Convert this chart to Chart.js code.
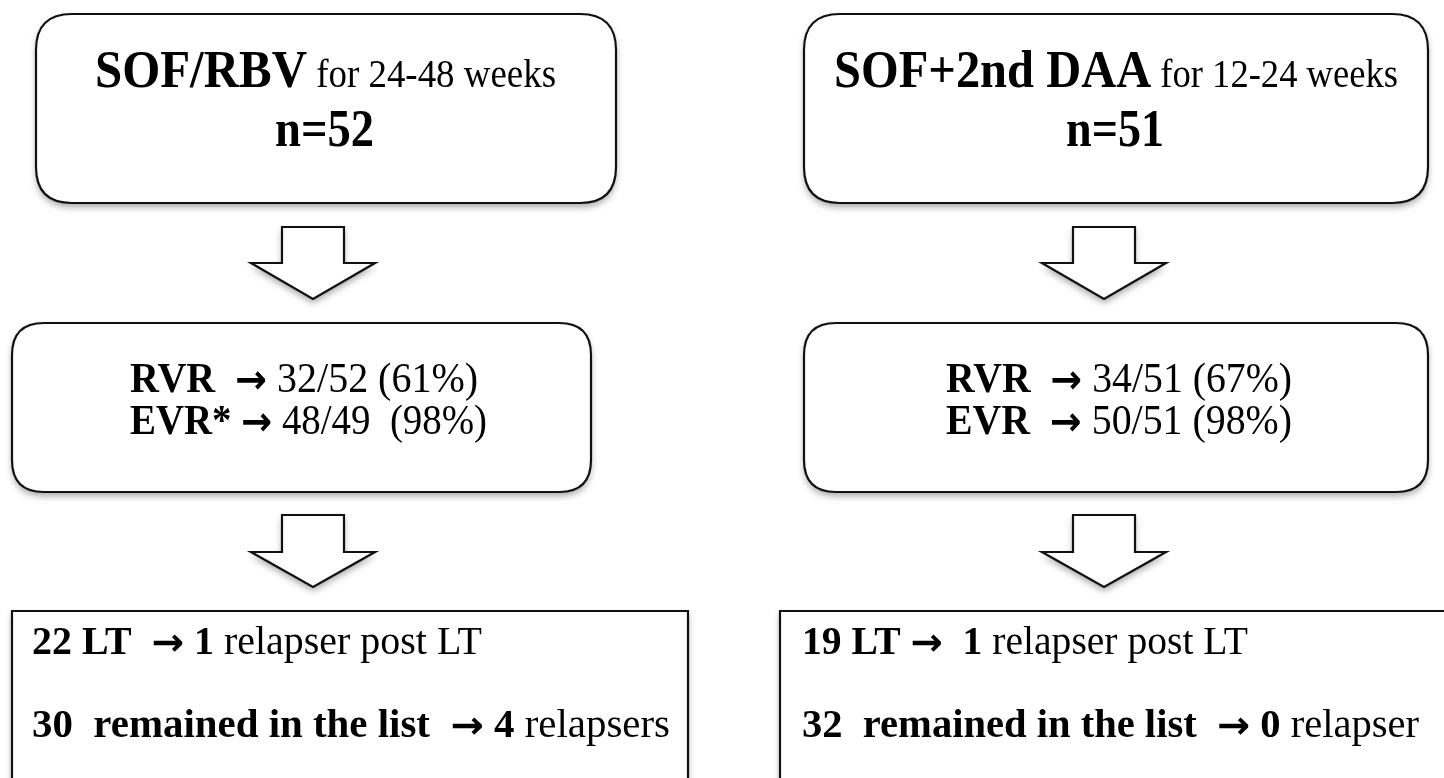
<!DOCTYPE html>
<html>
<head>
<meta charset="utf-8">
<script src="https://cdn.jsdelivr.net/npm/chart.js@4.4.1/dist/chart.umd.min.js"></script>
<style>
html,body{margin:0;padding:0;background:#fff;}
#wrap{width:1444px;height:778px;}
</style>
</head>
<body>
<div id="wrap"><canvas id="c" width="1444" height="778"></canvas></div>
<script>
// ---- data ----
const groups = ['SOF/RBV', 'SOF+2nd DAA'];
const durations = ['for 24-48 weeks', 'for 12-24 weeks'];
const nTotal = [52, 51];
const rvrLabel = ['RVR', 'RVR'];
const rvrNum = [32, 34];
const rvrDen = [52, 51];
const rvrPct = [61, 67];
const evrLabel = ['EVR*', 'EVR'];
const evrNum = [48, 50];
const evrDen = [49, 51];
const evrPct = [98, 98];
const ltCount = [22, 19];
const ltRelapsers = [1, 1];
const listCount = [30, 32];
const listRelapsers = [4, 0];
const relapserWord = ['relapsers', 'relapser'];

// ---- layout (coordinates in scale units) ----
const topBoxes = [[36, 14, 616, 203], [804, 14, 1428, 203]];
const midBoxes = [[12, 323, 591, 492], [804, 323, 1428, 492]];
const botBoxes = [[12, 611, 688, 800], [780, 611, 1460, 800]];
const arrowCx = [313, 1104];
const arrowRows = [[227, 263, 299], [515, 552, 587]];

const SERIF = '"Liberation Serif", "Times New Roman", serif';
const ARROWF = '"DejaVu Sans", sans-serif';
const A = '\u2192';

function buildLines(i) {
  const lines = [];
  const top = [[95, 556, 87], [834, 1398, 87]][i];
  lines.push({x0: top[0], x1: top[1], y: top[2], runs: [
    {t: groups[i], b: true, s: 53}, {t: ' ' + durations[i], b: false, s: 40}]});
  const nn = [[275, 374, 146], [1066, 1164, 146]][i];
  lines.push({x0: nn[0], x1: nn[1], y: nn[2], runs: [{t: 'n=' + nTotal[i], b: true, s: 53}]});
  const m = [[130, 478, 487], [946, 1292, 1292]][i];
  const ms = 42, as = 40;
  lines.push({x0: m[0], x1: m[1], y: 392, runs: [
    {t: rvrLabel[i] + '  ', b: true, s: ms}, {t: A, b: true, s: as, a: true},
    {t: ' ' + rvrNum[i] + '/' + rvrDen[i] + ' (' + rvrPct[i] + '%)', b: false, s: ms}]});
  lines.push({x0: m[0], x1: m[2], y: 434, runs: [
    {t: evrLabel[i] + (i === 0 ? ' ' : '  '), b: true, s: ms}, {t: A, b: true, s: as, a: true},
    {t: ' ' + evrNum[i] + '/' + evrDen[i] + (i === 0 ? '  (' : ' (') + evrPct[i] + '%)', b: false, s: ms}]});
  const b = [[32, 482, 670], [802, 1248, 1419]][i];
  const bs = 39, bas = 38;
  lines.push({x0: b[0], x1: b[1], y: 654, runs: [
    {t: ltCount[i] + ' LT ' + (i === 0 ? ' ' : ''), b: true, s: bs}, {t: A, b: true, s: bas, a: true},
    {t: (i === 0 ? ' ' : '  ') + ltRelapsers[i], b: true, s: bs},
    {t: ' relapser post LT', b: false, s: bs}]});
  lines.push({x0: b[0], x1: b[2], y: 737, runs: [
    {t: listCount[i] + '  remained in the list  ', b: true, s: bs}, {t: A, b: true, s: bas, a: true},
    {t: ' ' + listRelapsers[i], b: true, s: bs},
    {t: ' ' + relapserWord[i], b: false, s: bs}]});
  return lines;
}

function roundRect(ctx, x0, y0, x1, y1, r) {
  ctx.beginPath();
  ctx.moveTo(x0 + r, y0);
  ctx.lineTo(x1 - r, y0);
  ctx.quadraticCurveTo(x1, y0, x1, y0 + r);
  ctx.lineTo(x1, y1 - r);
  ctx.quadraticCurveTo(x1, y1, x1 - r, y1);
  ctx.lineTo(x0 + r, y1);
  ctx.quadraticCurveTo(x0, y1, x0, y1 - r);
  ctx.lineTo(x0, y0 + r);
  ctx.quadraticCurveTo(x0, y0, x0 + r, y0);
  ctx.closePath();
}

function fontOf(r) {
  return (r.b ? 'bold ' : '') + r.s + 'px ' + (r.a ? ARROWF : SERIF);
}

const flowPlugin = {
  id: 'flow',
  afterDraw(chart) {
    const ctx = chart.ctx;
    const X = v => chart.scales.x.getPixelForValue(v);
    const Y = v => chart.scales.y.getPixelForValue(v);
    const shape = (pathFn) => {
      ctx.save();
      ctx.shadowColor = 'rgba(0,0,0,0.35)';
      ctx.shadowBlur = 7;
      ctx.shadowOffsetY = 4;
      ctx.fillStyle = '#fff';
      pathFn(); ctx.fill();
      ctx.restore();
      ctx.save();
      ctx.strokeStyle = '#111';
      ctx.lineWidth = 2.2;
      ctx.lineJoin = 'miter';
      pathFn(); ctx.stroke();
      ctx.restore();
    };
    topBoxes.forEach(bx => shape(() => roundRect(ctx, X(bx[0]), Y(bx[1]), X(bx[2]), Y(bx[3]), 36)));
    midBoxes.forEach(bx => shape(() => roundRect(ctx, X(bx[0]), Y(bx[1]), X(bx[2]), Y(bx[3]), 32)));
    botBoxes.forEach(bx => shape(() => { ctx.beginPath(); ctx.rect(X(bx[0]), Y(bx[1]), X(bx[2]) - X(bx[0]), Y(bx[3]) - Y(bx[1])); }));
    arrowCx.forEach(cx => arrowRows.forEach(r => shape(() => {
      ctx.beginPath();
      ctx.moveTo(X(cx - 31), Y(r[0]));
      ctx.lineTo(X(cx + 31), Y(r[0]));
      ctx.lineTo(X(cx + 31), Y(r[1]));
      ctx.lineTo(X(cx + 62), Y(r[1]));
      ctx.lineTo(X(cx), Y(r[2]));
      ctx.lineTo(X(cx - 62), Y(r[1]));
      ctx.lineTo(X(cx - 31), Y(r[1]));
      ctx.closePath();
    })));
    // text
    ctx.save();
    ctx.fillStyle = '#000';
    ctx.textBaseline = 'alphabetic';
    ctx.textAlign = 'left';
    [0, 1].forEach(i => {
      buildLines(i).forEach(L => {
        let total = 0;
        L.runs.forEach(r => {
          ctx.font = fontOf(r);
          r.w = ctx.measureText(r.t).width;
          total += r.w;
        });
        const target = X(L.x1) - X(L.x0);
        const sx = target / total;
        ctx.save();
        ctx.translate(X(L.x0), Y(L.y));
        ctx.scale(sx, 1);
        let off = 0;
        L.runs.forEach(r => {
          ctx.font = fontOf(r);
          ctx.fillText(r.t, off, r.a ? 1 : 0);
          off += r.w;
        });
        ctx.restore();
      });
    });
    ctx.restore();
  }
};

new Chart(document.getElementById('c'), {
  type: 'scatter',
  data: { datasets: [{ data: [], pointRadius: 0 }] },
  options: {
    responsive: false,
    animation: false,
    layout: { padding: 0 },
    plugins: { legend: { display: false }, tooltip: { enabled: false } },
    scales: {
      x: { type: 'linear', min: 0, max: 1444, display: false },
      y: { type: 'linear', min: 0, max: 778, reverse: true, display: false }
    }
  },
  plugins: [flowPlugin]
});
</script>
</body>
</html>
